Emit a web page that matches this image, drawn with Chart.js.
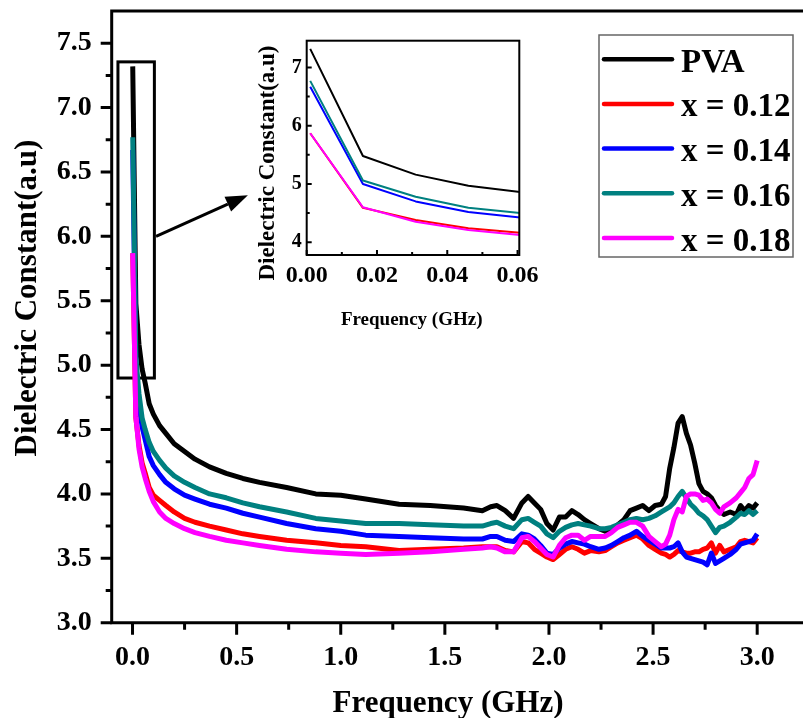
<!DOCTYPE html>
<html>
<head>
<meta charset="utf-8">
<script src="https://cdn.jsdelivr.net/npm/chart.js@4"></script>
<style>
  html, body { margin: 0; padding: 0; background: #fff; }
  #wrap { position: relative; width: 803px; height: 718px; overflow: hidden; }
  #main { position: absolute; left: 0; top: 0; }
  #inset { position: absolute; left: 240px; top: 30px; }
</style>
</head>
<body>
<div id="wrap">
  <canvas id="main" width="803" height="718"></canvas>
  <canvas id="inset" width="320" height="305"></canvas>
</div>
<script>
// frequency (GHz), shared by all samples
const freq = [
  0.001, 0.016, 0.031, 0.046, 0.061, 0.08, 0.1, 0.13, 0.16, 0.2,
  0.25, 0.3, 0.37, 0.45, 0.53, 0.61, 0.74, 0.88, 1.0, 1.12,
  1.28, 1.43, 1.59, 1.68, 1.72, 1.75, 1.79, 1.83, 1.87, 1.90,
  1.93, 1.96, 1.99, 2.02, 2.05, 2.08, 2.11, 2.14, 2.17, 2.2,
  2.24, 2.27, 2.3, 2.33, 2.36, 2.39, 2.42, 2.45, 2.48, 2.51,
  2.54, 2.56, 2.58, 2.60, 2.62, 2.64, 2.66, 2.68, 2.70, 2.72,
  2.74, 2.76, 2.78, 2.80, 2.82, 2.84, 2.87, 2.90, 2.92, 2.94,
  2.96, 2.98, 3.0
];

const pva = [
  7.32, 5.48, 5.16, 4.97, 4.86, 4.70, 4.62, 4.53, 4.47, 4.39,
  4.33, 4.27, 4.21, 4.16, 4.12, 4.09, 4.05, 4.00, 3.99, 3.96,
  3.92, 3.91, 3.89, 3.87, 3.90, 3.91, 3.87, 3.81, 3.93, 3.98,
  3.93, 3.88, 3.77, 3.72, 3.82, 3.82, 3.87, 3.84, 3.80, 3.77,
  3.73, 3.71, 3.72, 3.76, 3.80, 3.87, 3.89, 3.91, 3.87, 3.91,
  3.92, 3.98, 4.20, 4.36, 4.55, 4.60, 4.47, 4.38, 4.24, 4.08,
  4.02, 4.00, 3.97, 3.91, 3.87, 3.84, 3.86, 3.84, 3.91, 3.87,
  3.91, 3.89, 3.93
];

const x012 = [
  5.87, 4.59, 4.38, 4.24, 4.16, 4.05, 3.99, 3.95, 3.91, 3.86,
  3.81, 3.78, 3.75, 3.72, 3.69, 3.67, 3.64, 3.62, 3.60, 3.59,
  3.56, 3.57, 3.58, 3.59, 3.59, 3.59, 3.56, 3.55, 3.63, 3.62,
  3.57, 3.54, 3.51, 3.49, 3.53, 3.57, 3.59, 3.57, 3.54, 3.56,
  3.55, 3.56, 3.59, 3.62, 3.64, 3.66, 3.68, 3.65, 3.60, 3.57,
  3.54, 3.53, 3.51, 3.53, 3.56, 3.55, 3.54, 3.54, 3.55, 3.55,
  3.57, 3.58, 3.62, 3.54, 3.60, 3.55, 3.57, 3.59, 3.63, 3.64,
  3.63, 3.62, 3.66
];

const x014 = [
  6.67, 5.00, 4.70, 4.52, 4.42, 4.29, 4.22, 4.15, 4.09, 4.04,
  3.99, 3.96, 3.92, 3.89, 3.85, 3.82, 3.77, 3.73, 3.71, 3.68,
  3.67, 3.66, 3.65, 3.65, 3.67, 3.67, 3.64, 3.63, 3.69, 3.68,
  3.65, 3.60, 3.54, 3.53, 3.58, 3.61, 3.63, 3.62, 3.61, 3.59,
  3.57, 3.58, 3.60, 3.63, 3.66, 3.68, 3.71, 3.67, 3.64, 3.61,
  3.58, 3.58, 3.58, 3.59, 3.62, 3.55, 3.51, 3.50, 3.49, 3.48,
  3.47, 3.45, 3.54, 3.46, 3.48, 3.50, 3.53, 3.57, 3.61, 3.62,
  3.63, 3.64, 3.69
];

const x016 = [
  6.77, 5.06, 4.78, 4.59, 4.50, 4.40, 4.33, 4.26, 4.20, 4.14,
  4.09, 4.05, 4.00, 3.97, 3.93, 3.90, 3.86, 3.81, 3.79, 3.77,
  3.77, 3.76, 3.75, 3.75, 3.77, 3.78, 3.75, 3.73, 3.80, 3.81,
  3.78, 3.75, 3.69, 3.66, 3.71, 3.74, 3.76, 3.77, 3.76, 3.75,
  3.73, 3.73, 3.74, 3.76, 3.78, 3.80, 3.81, 3.80, 3.81, 3.83,
  3.86, 3.88, 3.90, 3.93, 3.98, 4.02, 3.97, 3.92, 3.89, 3.85,
  3.83, 3.80, 3.75, 3.70, 3.74, 3.75, 3.78, 3.82, 3.85, 3.84,
  3.87, 3.84, 3.87
];

const x018 = [
  5.87, 4.60, 4.35, 4.21, 4.12, 4.02, 3.94, 3.86, 3.81, 3.77,
  3.73, 3.70, 3.67, 3.64, 3.62, 3.60, 3.57, 3.55, 3.54, 3.53,
  3.54, 3.55, 3.57, 3.58, 3.59, 3.58, 3.55, 3.55, 3.66, 3.67,
  3.63, 3.58, 3.53, 3.51, 3.60, 3.66, 3.68, 3.68, 3.64, 3.67,
  3.67, 3.67, 3.70, 3.74, 3.76, 3.78, 3.78, 3.75, 3.67, 3.63,
  3.59, 3.61, 3.68, 3.80, 3.88, 3.86, 3.98, 4.00, 4.00, 3.99,
  3.95, 3.96, 3.93, 3.88, 3.85, 3.90, 3.93, 3.97, 4.01, 4.05,
  4.12, 4.15, 4.26
];

const seriesLabels = ['PVA', 'x = 0.12', 'x = 0.14', 'x = 0.16', 'x = 0.18'];
const seriesValues = [pva, x012, x014, x016, x018];
const seriesColors = ['#000000', '#ff0000', '#0000ff', '#008080', '#ff00ff'];

const serif = '"Liberation Serif", "Times New Roman", serif';

function makeDatasets(width) {
  return seriesValues.map((vals, i) => ({
    label: seriesLabels[i],
    data: vals.map((v, k) => ({x: freq[k], y: v})),
    borderColor: seriesColors[i],
    backgroundColor: seriesColors[i],
    borderWidth: width,
    pointRadius: 0,
    tension: 0,
    borderJoinStyle: 'round',
    order: seriesValues.length - i, // later samples drawn on top
  }));
}

// keep the plot area where we put it, no extra room for tick labels
function fixSize(w, h) {
  return (s) => {
    if (w !== null) s.width = w;
    if (h !== null) s.height = h;
    s.paddingTop = 0;
    s.paddingBottom = 0;
    s.paddingLeft = 0;
    s.paddingRight = 0;
  };
}

// zoom box and arrow, in data units of the main chart
const zoomBox = {x0: -0.07, x1: 0.105, y0: 4.9, y1: 7.355};
const arrow = {x0: 0.113, y0: 6.0, x1: 0.554, y1: 6.32};

const mainDecor = {
  id: 'mainDecor',
  beforeDatasetsDraw(chart) {
    const {ctx, scales: {x, y}} = chart;
    ctx.save();
    ctx.lineWidth = 3;
    ctx.strokeStyle = '#000';
    const l = x.getPixelForValue(zoomBox.x0), r = x.getPixelForValue(zoomBox.x1);
    const t = y.getPixelForValue(zoomBox.y1), b = y.getPixelForValue(zoomBox.y0);
    ctx.strokeRect(l, t, r - l, b - t);
    ctx.restore();
  },
  afterDraw(chart) {
    const {ctx, chartArea: a, scales: {x, y}} = chart;
    ctx.save();
    ctx.strokeStyle = '#000';
    ctx.fillStyle = '#000';
    ctx.lineWidth = 3;
    ctx.lineCap = 'butt';

    // frame: left, bottom, top
    ctx.beginPath();
    ctx.moveTo(a.left, a.top - 1.5);
    ctx.lineTo(a.left, a.bottom + 1.5);
    ctx.moveTo(a.left - 1.5, a.bottom);
    ctx.lineTo(a.right, a.bottom);
    ctx.moveTo(a.left - 1.5, a.top);
    ctx.lineTo(a.right, a.top);
    ctx.stroke();

    // tick marks (major + minor), pointing out
    ctx.beginPath();
    for (let k = 0; k <= 18; k++) {
      const py = y.getPixelForValue(3 + k * 0.25);
      const len = k % 2 === 0 ? 11 : 6;
      ctx.moveTo(a.left - len, py);
      ctx.lineTo(a.left, py);
    }
    for (let k = 0; k <= 12; k++) {
      const px = x.getPixelForValue(k * 0.25);
      const len = k % 2 === 0 ? 12 : 7;
      ctx.moveTo(px, a.bottom);
      ctx.lineTo(px, a.bottom + len);
    }
    ctx.stroke();

    // arrow to the inset
    const ax0 = x.getPixelForValue(arrow.x0), ay0 = y.getPixelForValue(arrow.y0);
    const ax1 = x.getPixelForValue(arrow.x1), ay1 = y.getPixelForValue(arrow.y1);
    const ang = Math.atan2(ay1 - ay0, ax1 - ax0);
    const headLen = 22, headHalf = 8;
    const bx = ax1 - headLen * Math.cos(ang), by = ay1 - headLen * Math.sin(ang);
    ctx.beginPath();
    ctx.moveTo(ax0, ay0);
    ctx.lineTo(bx, by);
    ctx.stroke();
    ctx.beginPath();
    ctx.moveTo(ax1, ay1);
    ctx.lineTo(bx + headHalf * Math.sin(ang), by - headHalf * Math.cos(ang));
    ctx.lineTo(bx - headHalf * Math.sin(ang), by + headHalf * Math.cos(ang));
    ctx.closePath();
    ctx.fill();

    // axis titles
    ctx.font = 'bold 31px ' + serif;
    ctx.textAlign = 'center';
    ctx.textBaseline = 'alphabetic';
    ctx.fillText('Frequency (GHz)', 448, 712);
    ctx.translate(27.5, 298);
    ctx.rotate(-Math.PI / 2);
    ctx.textBaseline = 'middle';
    ctx.fillText('Dielectric Constant(a.u)', 0, 0);
    ctx.restore();

    // legend box
    ctx.save();
    ctx.fillStyle = '#fff';
    ctx.fillRect(599, 35, 194, 222);
    ctx.strokeStyle = '#666';
    ctx.lineWidth = 1.5;
    ctx.strokeRect(599, 35, 194, 222);
    ctx.font = 'bold 33px ' + serif;
    ctx.textAlign = 'left';
    ctx.textBaseline = 'alphabetic';
    chart.data.datasets.forEach((ds, i) => {
      const base = 71.7 + i * 44.7;
      ctx.strokeStyle = ds.borderColor;
      ctx.lineWidth = 4.5;
      ctx.lineCap = 'round';
      ctx.beginPath();
      ctx.moveTo(604, base - 12.5);
      ctx.lineTo(672, base - 12.5);
      ctx.stroke();
      ctx.fillStyle = '#000';
      ctx.fillText(ds.label, 681, base);
    });
    ctx.restore();
  }
};

new Chart(document.getElementById('main'), {
  type: 'line',
  data: {datasets: makeDatasets(5)},
  plugins: [mainDecor],
  options: {
    responsive: false,
    animation: false,
    layout: {padding: {top: 11, right: 0, left: 0, bottom: 0}},
    plugins: {legend: {display: false}, tooltip: {enabled: false}},
    scales: {
      x: {
        type: 'linear',
        min: -0.1,
        max: 3.22,
        grid: {display: false, drawTicks: false},
        border: {display: false},
        afterFit: fixSize(null, 95.3),
        ticks: {
          stepSize: 0.5,
          includeBounds: false,
          padding: 18,
          color: '#000',
          maxRotation: 0,
          font: {family: serif, size: 28, weight: 'bold'},
          callback: (v) => Number(v).toFixed(1),
        },
      },
      y: {
        min: 3.0,
        max: 7.75,
        grid: {display: false, drawTicks: false},
        border: {display: false},
        afterFit: fixSize(111.7, null),
        ticks: {
          stepSize: 0.5,
          includeBounds: false,
          padding: 20,
          color: '#000',
          font: {family: serif, size: 28, weight: 'bold'},
          callback: (v) => Number(v).toFixed(1),
        },
      },
    },
  },
});

const insetDecor = {
  id: 'insetDecor',
  afterDraw(chart) {
    const {ctx, chartArea: a, scales: {x, y}} = chart;
    ctx.save();
    ctx.strokeStyle = '#000';
    ctx.lineWidth = 2;
    ctx.strokeRect(a.left, a.top, a.right - a.left, a.bottom - a.top);
    ctx.beginPath();
    for (let k = 8; k <= 14; k++) {
      const py = y.getPixelForValue(k * 0.5);
      const len = k % 2 === 0 ? 5 : 3;
      ctx.moveTo(a.left, py);
      ctx.lineTo(a.left + len, py);
    }
    for (let k = 0; k <= 6; k++) {
      const px = x.getPixelForValue(k * 0.01);
      const len = k % 2 === 0 ? 5 : 3;
      ctx.moveTo(px, a.bottom);
      ctx.lineTo(px, a.bottom - len);
    }
    ctx.stroke();

    ctx.fillStyle = '#000';
    ctx.font = 'bold 19px ' + serif;
    ctx.textAlign = 'center';
    ctx.textBaseline = 'alphabetic';
    ctx.fillText('Frequency (GHz)', 171.7, 295);
    ctx.translate(28, 133);
    ctx.rotate(-Math.PI / 2);
    ctx.textBaseline = 'middle';
    ctx.font = 'bold 23px ' + serif;
    ctx.fillText('Dielectric Constant(a.u)', 0, 0);
    ctx.restore();
  }
};

new Chart(document.getElementById('inset'), {
  type: 'line',
  data: {datasets: makeDatasets(2)},
  plugins: [insetDecor],
  options: {
    responsive: false,
    animation: false,
    layout: {padding: {top: 10.7, right: 40.7, left: 0, bottom: 0}},
    plugins: {legend: {display: false}, tooltip: {enabled: false}},
    scales: {
      x: {
        type: 'linear',
        min: 0,
        max: 0.0605,
        grid: {display: false, drawTicks: false},
        border: {display: false},
        afterFit: fixSize(null, 80),
        ticks: {
          stepSize: 0.02,
          includeBounds: false,
          padding: 6,
          color: '#000',
          maxRotation: 0,
          font: {family: serif, size: 24, weight: 'bold'},
          callback: (v) => Number(v).toFixed(2),
        },
      },
      y: {
        min: 3.78,
        max: 7.46,
        grid: {display: false, drawTicks: false},
        border: {display: false},
        afterFit: fixSize(66.7, null),
        ticks: {
          stepSize: 1,
          includeBounds: false,
          padding: 5,
          color: '#000',
          font: {family: serif, size: 20, weight: 'bold'},
          callback: (v) => Number(v).toFixed(0),
        },
      },
    },
  },
});
</script>
</body>
</html>
